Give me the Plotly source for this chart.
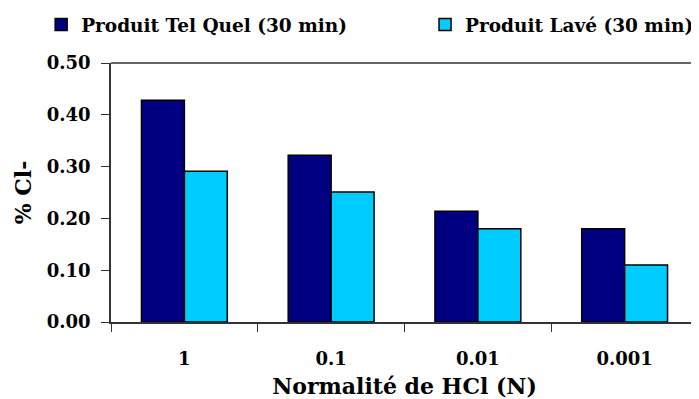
import plotly.graph_objects as go

# ── données ──────────────────────────────────────────────────────────────────
normalites = ["1", "0.1", "0.01", "0.001"]
tel_quel = [0.428, 0.322, 0.214, 0.180]
lave = [0.291, 0.251, 0.180, 0.110]
y_ticks = [0.0, 0.1, 0.2, 0.3, 0.4, 0.5]

FONT = "DejaVu Serif"

fig = go.Figure()
fig.add_trace(go.Bar(
    x=normalites, y=tel_quel, name="<b>Produit Tel Quel (30 min)</b>",
    marker=dict(color="#000080", line=dict(color="black", width=1.5)),
    legend="legend",
))
fig.add_trace(go.Bar(
    x=normalites, y=lave, name="<b>Produit Lavé (30 min)</b>",
    marker=dict(color="#00CCFF", line=dict(color="black", width=1.5)),
    legend="legend2",
))

leg = dict(orientation="h", yanchor="middle", y=1.147, xanchor="left",
           bgcolor="rgba(0,0,0,0)", font=dict(family=FONT, size=18.5))

# la page ajoute une marge de 8 px autour du graphique
fig.update_layout(
    width=699, height=399,
    margin=dict(l=103, r=9, t=55, b=85, autoexpand=False),
    paper_bgcolor="white", plot_bgcolor="white",
    font=dict(family=FONT, size=18, color="black"),
    barmode="group", bargap=0.415, bargroupgap=0,
    showlegend=True,
    legend=dict(leg, x=-0.119),
    legend2=dict(leg, x=0.535),
    xaxis=dict(
        title=dict(text="<b>Normalité de HCl (N)</b>", standoff=10),
        tickvals=normalites, ticktext=[f"<b>{n}</b>" for n in normalites],
        tickson="boundaries", ticks="outside", ticklen=8, tickcolor="#333",
        ticklabelstandoff=20,
        showline=True, linecolor="#333", linewidth=1.5,
        showgrid=False, automargin=False,
    ),
    yaxis=dict(
        title=dict(text="<b>% Cl-</b>", standoff=9),
        range=[0, 0.5], tickvals=y_ticks,
        ticktext=[f"<b>{v:.2f}</b>" for v in y_ticks],
        ticks="outside", ticklen=8, tickcolor="#333",
        ticklabelstandoff=7,
        showline=True, linecolor="#333", linewidth=1.5,
        showgrid=False, zeroline=False, automargin=False,
    ),
    shapes=[
        dict(type="line", xref="paper", yref="paper", x0=0, x1=1, y0=1, y1=1,
             line=dict(color="#333", width=1.5)),
        dict(type="line", xref="paper", yref="paper", x0=1, x1=1, y0=0, y1=1,
             line=dict(color="#aaa", width=1)),
    ],
)

fig.write_html("out.html")
